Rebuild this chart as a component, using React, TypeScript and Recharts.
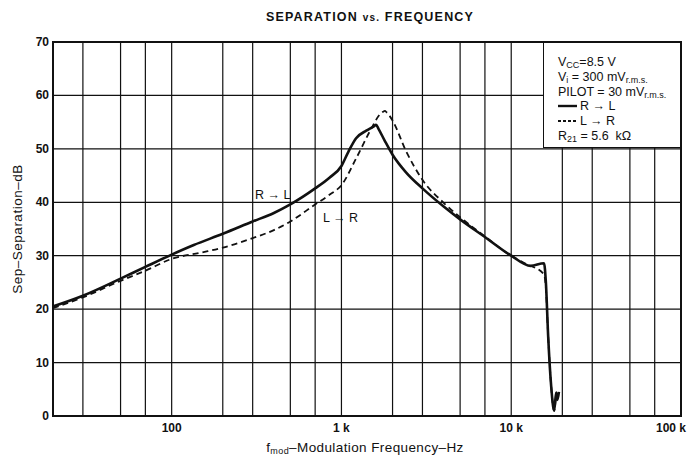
import { CartesianGrid, Line, LineChart, ReferenceArea, XAxis, YAxis } from "recharts";

// grid lines on the log frequency axis (Hz); only some get a label
const GRID_FREQS = [
  20, 30, 50, 70, 100, 200, 300, 500, 700, 1000, 2000, 3000, 5000, 7000, 10000, 20000, 30000,
  50000, 70000, 100000,
];
const FREQ_LABELS: Record<number, string> = { 100: "100", 1000: "1 k", 10000: "10 k", 100000: "100 k" };
const SEP_TICKS = [0, 10, 20, 30, 40, 50, 60, 70];

// R -> L (solid)
const RL_FREQ = [
  20, 30, 50, 70, 100, 135, 200, 300, 400, 500, 700, 850, 1000, 1100, 1220, 1400, 1550, 1600, 1650,
  1800, 2000, 2400, 3000, 4000, 5000, 7000, 10000, 13000, 15600, 16000, 16500, 17200, 17900, 18400,
  18700, 19100,
];
const RL_SEP = [
  20.5, 22.5, 25.7, 27.9, 30.2, 32.0, 34.1, 36.4, 38.0, 39.6, 42.6, 44.6, 46.8, 49.5, 52.0, 53.4,
  54.2, 54.5, 53.8, 51.5, 48.9, 45.6, 42.6, 39.2, 36.8, 33.5, 30.0, 28.1, 28.6, 25.0, 15.0, 5.5, 1.0,
  4.4, 3.0, 4.5,
];

// L -> R (dashed)
const LR_FREQ = [
  20, 30, 50, 70, 100, 150, 200, 300, 400, 500, 700, 850, 1000, 1220, 1500, 1700, 1760, 1800, 1850,
  2000, 2400, 3000, 4000, 5000, 7000, 10000, 12000, 15600, 16000, 16500, 17200, 17900, 18400,
];
const LR_SEP = [
  20.2, 22.2, 25.3, 27.2, 29.4, 30.6, 31.5, 33.3, 34.8, 36.4, 39.6, 41.4, 43.2, 48.2, 53.8, 56.6,
  56.95, 57.1, 56.8, 55.3, 49.6, 44.2, 39.9, 37.2, 33.6, 30.0, 28.6, 26.5, 24.0, 15.0, 5.5, 1.0, 4.4,
];

const rlData = RL_FREQ.map((f, i) => ({ f, sep: RL_SEP[i] }));
const lrData = LR_FREQ.map((f, i) => ({ f, sep: LR_SEP[i] }));

const FONT = '"Liberation Sans", Arial, sans-serif';
const INK = "#111";

function FreqTick({ x, y, payload }: any) {
  const label = FREQ_LABELS[payload.value];
  if (!label) return <g />;
  const dx = payload.value === 100000 ? -10 : 0;
  return (
    <text x={x + dx} y={y + 8} textAnchor="middle" fontSize={12} fontWeight="bold" fontFamily={FONT} fill={INK}>
      {label}
    </text>
  );
}

function SepTick({ x, y, payload }: any) {
  return (
    <text x={x + 4} y={y + 4} textAnchor="end" fontSize={12} fontWeight="bold" fontFamily={FONT} fill={INK}>
      {payload.value}
    </text>
  );
}

const sub = { fontSize: 9, lineHeight: 1, verticalAlign: "-2px" } as const;

function InfoBox() {
  const row = { height: 14.8, lineHeight: "14.8px", whiteSpace: "pre" as const };
  return (
    <div
      style={{
        position: "absolute",
        left: 543,
        top: 42,
        width: 138,
        height: 106,
        boxSizing: "border-box",
        background: "#fff",
        border: `1.5px solid ${INK}`,
        padding: "12px 0 0 14px",
        fontFamily: FONT,
        fontSize: 12.5,
        color: INK,
      }}
    >
      <div style={row}>
        V<span style={sub}>CC</span>=8.5 V
      </div>
      <div style={row}>
        V<span style={sub}>i</span> = 300 mV<span style={sub}>r.m.s.</span>
      </div>
      <div style={row}>
        PILOT = 30 mV<span style={sub}>r.m.s.</span>
      </div>
      <div style={row}>
        <svg width={19} height={8} style={{ marginRight: 3 }}>
          <line x1={0} y1={4} x2={19} y2={4} stroke={INK} strokeWidth={2.4} />
        </svg>
        R → L
      </div>
      <div style={row}>
        <svg width={19} height={8} style={{ marginRight: 3 }}>
          <line x1={0} y1={4} x2={19} y2={4} stroke={INK} strokeWidth={1.8} strokeDasharray="3 2" />
        </svg>
        L → R
      </div>
      <div style={row}>
        R<span style={sub}>21</span> = 5.6  kΩ
      </div>
    </div>
  );
}

const curveNote = {
  position: "absolute" as const,
  fontSize: 12.5,
  lineHeight: "14px",
  whiteSpace: "nowrap" as const,
  color: INK,
};

export default function App() {
  return (
    <div style={{ position: "absolute", left: 0, top: 0, width: 689, height: 458, background: "#fff", fontFamily: FONT }}>
      <LineChart width={689} height={458} margin={{ top: 42, right: 8, bottom: 0, left: 0 }}>
        <CartesianGrid stroke={INK} strokeWidth={1.2} />
        <XAxis
          dataKey="f"
          type="number"
          scale="log"
          domain={[20, 100000]}
          ticks={GRID_FREQS}
          interval={0}
          allowDataOverflow
          tickLine={false}
          axisLine={false}
          height={42}
          tick={<FreqTick />}
        />
        <YAxis
          type="number"
          domain={[0, 70]}
          ticks={SEP_TICKS}
          interval={0}
          tickLine={false}
          axisLine={false}
          width={53}
          tick={<SepTick />}
        />
        <ReferenceArea x1={20} x2={100000} y1={0} y2={70} fill="none" stroke={INK} strokeWidth={2} />
        <Line
          data={lrData}
          dataKey="sep"
          type="monotone"
          stroke={INK}
          strokeWidth={1.8}
          strokeDasharray="6 4"
          dot={false}
          isAnimationActive={false}
        />
        <Line
          data={rlData}
          dataKey="sep"
          type="monotone"
          stroke={INK}
          strokeWidth={2.6}
          dot={false}
          isAnimationActive={false}
        />
      </LineChart>
      <InfoBox />
      <div style={{ ...curveNote, left: 255, top: 188 }}>R → L</div>
      <div style={{ ...curveNote, left: 323, top: 211 }}>L → R</div>
      <div
        style={{
          position: "absolute",
          left: 0,
          width: 740,
          top: 10,
          textAlign: "center",
          fontSize: 12.5,
          fontWeight: "bold",
          letterSpacing: 1.2,
          color: INK,
        }}
      >
        SEPARATION <span style={{ fontSize: 10 }}>vs.</span> FREQUENCY
      </div>
      <div
        style={{
          position: "absolute",
          left: 0,
          width: 730,
          top: 440,
          textAlign: "center",
          fontSize: 13.5,
          letterSpacing: 0.4,
          color: INK,
        }}
      >
        f<span style={sub}>mod</span>–Modulation Frequency–Hz
      </div>
      <div
        style={{
          position: "absolute",
          left: 17,
          top: 229,
          transform: "translate(-50%, -50%) rotate(-90deg)",
          whiteSpace: "nowrap",
          fontSize: 13.5,
          letterSpacing: 0.5,
          color: INK,
        }}
      >
        Sep–Separation–dB
      </div>
    </div>
  );
}
